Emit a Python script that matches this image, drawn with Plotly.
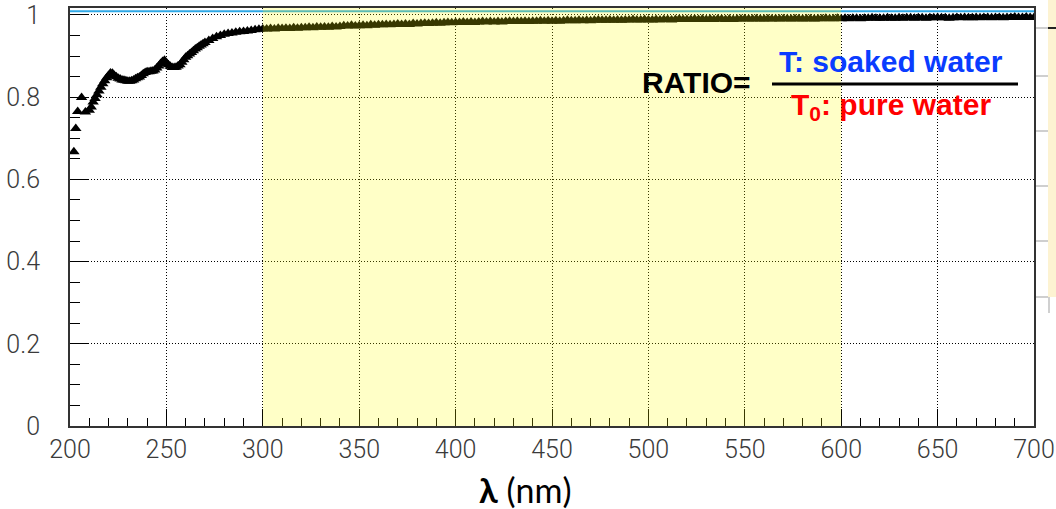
import plotly.graph_objects as go

# Transmission ratio T/T0 versus wavelength
# UV part (irregular sampling)
uv_wavelength = [202, 203, 204, 206, 208, 210, 211, 212, 213, 214, 215, 216, 217, 218, 219,
                 220, 221, 222, 223, 224, 225, 226, 227, 228, 229, 230, 231, 232, 233, 234,
                 235, 236, 237, 238, 239, 240, 241, 242, 243, 244, 245, 246, 247, 248, 249,
                 250, 251, 252, 253, 254, 255, 256, 257, 258, 259, 260, 261, 262, 263, 264,
                 265, 266, 267, 268, 269, 270, 272, 274, 276, 278, 280, 282, 284, 286, 288,
                 290, 292, 294, 296, 298, 300]
uv_ratio = [0.667, 0.724, 0.765, 0.799, 0.764, 0.768, 0.776, 0.788, 0.797, 0.806, 0.815,
            0.824, 0.833, 0.840, 0.847, 0.853, 0.859, 0.858, 0.853, 0.850, 0.846, 0.844,
            0.842, 0.841, 0.840, 0.839, 0.839, 0.840, 0.842, 0.845, 0.847, 0.849, 0.853,
            0.857, 0.860, 0.862, 0.862, 0.863, 0.864, 0.866, 0.871, 0.876, 0.882, 0.887,
            0.890, 0.884, 0.879, 0.875, 0.872, 0.872, 0.873, 0.876, 0.879, 0.885, 0.891,
            0.897, 0.901, 0.905, 0.909, 0.913, 0.917, 0.920, 0.924, 0.927, 0.930, 0.933,
            0.938, 0.943, 0.947, 0.950, 0.953, 0.955, 0.956, 0.958, 0.959, 0.960, 0.961,
            0.962, 0.964, 0.965, 0.966]

# Visible part, sampled every 2 nm from 302 to 700 nm
vis_wavelength = list(range(302, 701, 2))
vis_ratio = [
    0.966, 0.967, 0.966, 0.968, 0.967, 0.968, 0.967, 0.969, 0.968, 0.969,
    0.969, 0.970, 0.969, 0.971, 0.970, 0.971, 0.970, 0.972, 0.971, 0.972,
    0.974, 0.973, 0.975, 0.973, 0.974, 0.975, 0.974, 0.976, 0.975, 0.976,
    0.976, 0.977, 0.976, 0.977, 0.978, 0.977, 0.978, 0.977, 0.979, 0.978,
    0.979, 0.980, 0.979, 0.980, 0.981, 0.980, 0.981, 0.982, 0.981, 0.982,
    0.982, 0.983, 0.982, 0.983, 0.982, 0.983, 0.984, 0.983, 0.984, 0.983,
    0.984, 0.983, 0.984, 0.985, 0.984, 0.985, 0.984, 0.985, 0.984, 0.985,
    0.985, 0.986, 0.985, 0.986, 0.985, 0.986, 0.985, 0.986, 0.987, 0.986,
    0.986, 0.987, 0.986, 0.987, 0.986, 0.987, 0.988, 0.987, 0.987, 0.988,
    0.987, 0.988, 0.987, 0.988, 0.988, 0.989, 0.988, 0.988, 0.989, 0.988,
    0.988, 0.989, 0.988, 0.989, 0.989, 0.988, 0.989, 0.990, 0.989, 0.989,
    0.989, 0.990, 0.989, 0.990, 0.989, 0.990, 0.989, 0.990, 0.990, 0.989,
    0.990, 0.989, 0.990, 0.990, 0.991, 0.990, 0.990, 0.991, 0.990, 0.990,
    0.991, 0.990, 0.991, 0.990, 0.991, 0.991, 0.990, 0.991, 0.991, 0.990,
    0.991, 0.991, 0.990, 0.991, 0.991, 0.992, 0.991, 0.991, 0.992, 0.991,
    0.992, 0.991, 0.992, 0.992, 0.991, 0.992, 0.992, 0.993, 0.992, 0.992,
    0.992, 0.993, 0.992, 0.992, 0.993, 0.992, 0.993, 0.993, 0.992, 0.993,
    0.993, 0.992, 0.993, 0.993, 0.994, 0.993, 0.993, 0.992, 0.993, 0.994,
    0.993, 0.994, 0.993, 0.993, 0.994, 0.993, 0.994, 0.994, 0.993, 0.994,
    0.994, 0.993, 0.994, 0.994, 0.995, 0.994, 0.994, 0.995, 0.994, 0.994,
]

wavelength = uv_wavelength + vis_wavelength
ratio = uv_ratio + vis_ratio

x_ticks = [200, 250, 300, 350, 400, 450, 500, 550, 600, 650, 700]
y_ticks = [0, 0.2, 0.4, 0.6, 0.8, 1]
y_tick_text = ["0", "0.2", "0.4", "0.6", "0.8", "1"]

reference_level = 1.009
band_start, band_end = 300, 600

W, H = 1056, 509
ML, MR, MT, MB = 70, 22, 8, 83
PW, PH = W - ML - MR, H - MT - MB


def px(xp):
    return (xp - ML) / PW


def py(yp):
    return (H - MB - yp) / PH


tick_font = dict(family="Roboto, Liberation Sans, sans-serif", size=25, color="#3a3a3a",
                 weight=300)
label_font = "Liberation Sans, Arial, sans-serif"

fig = go.Figure()
fig.add_trace(go.Scatter(
    x=wavelength, y=ratio, mode="markers",
    marker=dict(symbol="triangle-up", size=10, color="black", line=dict(width=0)),
    showlegend=False, hoverinfo="x+y",
))

# reference level line
fig.add_hline(y=reference_level, line=dict(color="#2fa8e6", width=2), layer="above")
# highlighted wavelength band
fig.add_vrect(x0=band_start, x1=band_end, fillcolor="rgba(255,255,0,0.22)",
              line_width=0, layer="above")

axis_common = dict(
    showline=True, linecolor="#333", linewidth=2, mirror=True,
    showgrid=True, gridcolor="black", gridwidth=1, griddash="1px,2px",
    ticks="inside", tickcolor="black", tickwidth=1,
    zeroline=False, tickfont=tick_font, automargin=False,
)

fig.update_xaxes(
    range=[200, 700], tickvals=x_ticks, ticklen=17, ticklabelstandoff=0,
    minor=dict(dtick=10, tick0=200, ticks="inside", ticklen=8, tickcolor="black",
               tickwidth=1, showgrid=False),
    **axis_common,
)
fig.update_yaxes(
    range=[0, 1.017], tickvals=y_ticks, ticktext=y_tick_text, ticklen=18,
    ticklabelstandoff=23,
    minor=dict(dtick=0.05, tick0=0, ticks="inside", ticklen=10, tickcolor="black",
               tickwidth=1, showgrid=False),
    **axis_common,
)

annotations = [
    dict(text="<b>RATIO=</b>", x=px(696), y=py(82), xanchor="center", yanchor="middle",
         font=dict(family=label_font, size=30, color="black")),
    dict(text="<b>T: soaked water</b>", x=px(891), y=py(61), xanchor="center",
         yanchor="middle",
         font=dict(family=label_font, size=30, color="#0a3cff")),
    dict(text="<b>T<sub>0</sub>: pure water</b>", x=px(891), y=py(106), xanchor="center",
         yanchor="middle",
         font=dict(family=label_font, size=30, color="#ff0000")),
    dict(text="<b>λ</b> (nm)", x=px(525), y=py(489), xanchor="center", yanchor="middle",
         font=dict(family="Lato, Open Sans, sans-serif", size=34, color="black")),
]
for a in annotations:
    a.update(xref="paper", yref="paper", showarrow=False)

shapes = [
    # fraction bar
    dict(type="line", xref="paper", yref="paper", x0=px(772), x1=px(1018),
         y0=py(84), y1=py(84), line=dict(color="black", width=3)),
    # neighbouring panel edge on the right
    dict(type="rect", xref="paper", yref="paper", x0=px(1048), x1=px(1060),
         y0=py(297), y1=py(-5), fillcolor="#fdf3d2", line_width=0, layer="below"),
    dict(type="line", xref="paper", yref="paper", x0=px(1049), x1=px(1049),
         y0=py(297), y1=py(313), line=dict(color="#d0d0d0", width=2)),
    dict(type="line", xref="paper", yref="paper", x0=px(1048), x1=px(1060),
         y0=py(28), y1=py(28), line=dict(color="#222", width=2)),
]
for yy in [28, 76, 131, 186, 241, 297]:
    shapes.append(dict(type="line", xref="paper", yref="paper", x0=px(1036), x1=px(1048),
                       y0=py(yy), y1=py(yy), line=dict(color="#cfcfcf", width=2)))

fig.update_layout(
    width=W, height=H,
    margin=dict(l=ML, r=MR, t=MT, b=MB, pad=0, autoexpand=False),
    paper_bgcolor="white", plot_bgcolor="white",
    annotations=annotations,
    shapes=list(fig.layout.shapes) + shapes,
)

fig.write_html("out.html")
